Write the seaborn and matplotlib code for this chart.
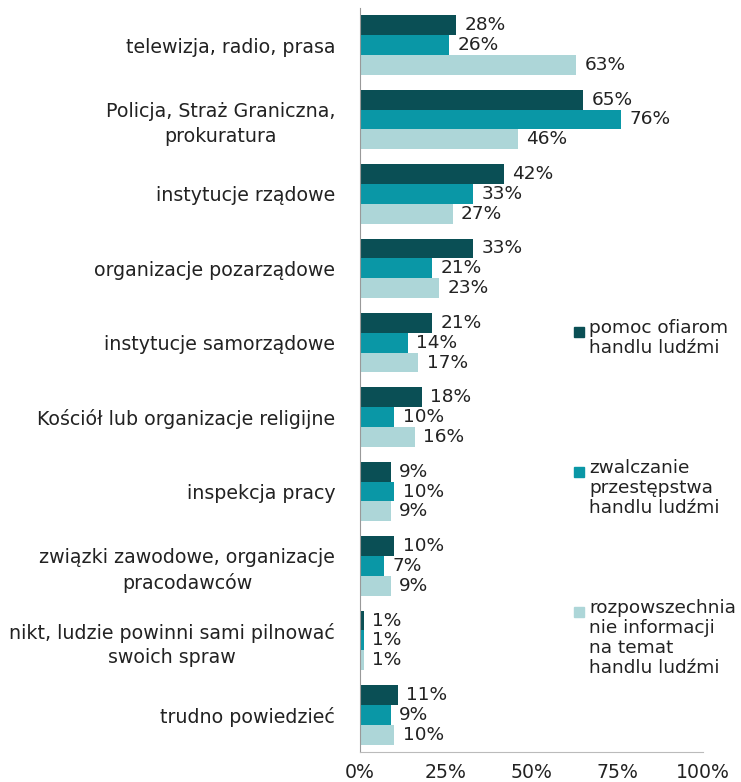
import matplotlib
matplotlib.use("Agg")
import matplotlib.pyplot as plt
from matplotlib.patches import Rectangle
from matplotlib.ticker import FuncFormatter
import seaborn as sns
import pandas as pd

categories = [
    "telewizja, radio, prasa",
    "Policja, Straż Graniczna,\nprokuratura",
    "instytucje rządowe",
    "organizacje pozarządowe",
    "instytucje samorządowe",
    "Kościół lub organizacje religijne",
    "inspekcja pracy",
    "związki zawodowe, organizacje\npracodawców",
    "nikt, ludzie powinni sami pilnować\nswoich spraw",
    "trudno powiedzieć",
]
series = [
    "pomoc ofiarom\nhandlu ludźmi",
    "zwalczanie\nprzestępstwa\nhandlu ludźmi",
    "rozpowszechnia\nnie informacji\nna temat\nhandlu ludźmi",
]
pomoc = [28, 65, 42, 33, 21, 18, 9, 10, 1, 11]
zwalczanie = [26, 76, 33, 21, 14, 10, 10, 7, 1, 9]
informacja = [63, 46, 27, 23, 17, 16, 9, 9, 1, 10]
colors = ["#0a4f55", "#0a97a6", "#add6d8"]

rows = []
for s, vals in zip(series, [pomoc, zwalczanie, informacja]):
    for c, v in zip(categories, vals):
        rows.append({"kategoria": c, "seria": s, "wartosc": v})
df = pd.DataFrame(rows)

sns.set_style("white")
plt.rcParams["font.family"] = ["DejaVu Sans"]
fs = 13.3

fig = plt.figure(figsize=(7.41, 7.82), dpi=100)
ax = fig.add_axes([0.486, 0.0384, 0.463, 0.9516])

sns.barplot(data=df, y="kategoria", x="wartosc", hue="seria", orient="h",
            palette=colors, saturation=1, width=0.8, legend=False,
            linewidth=0, ax=ax)

for cont in ax.containers:
    ax.bar_label(cont, fmt="%d%%", padding=6, fontsize=fs, color="#222222")

ax.set_xlim(0, 100)
ax.set_xticks([0, 25, 50, 75, 100])
ax.xaxis.set_major_formatter(FuncFormatter(lambda v, p: f"{v:.0f}%"))
ax.set_xlabel("")
ax.set_ylabel("")
ax.tick_params(axis="x", length=0, pad=8, labelsize=fs + 0.3, labelcolor="#222222")
ax.tick_params(axis="y", length=0, pad=18, labelsize=fs + 0.4, labelcolor="#222222")
for lab in ax.get_yticklabels():
    lab.set_multialignment("center")
    lab.set_linespacing(1.35)

for side in ["top", "right"]:
    ax.spines[side].set_visible(False)
ax.spines["left"].set_color("#999999")
ax.spines["bottom"].set_color("#bbbbbb")

# legend drawn by hand so the marker sits at the first line
leg_y = [319, 459, 599]
for s, col, y in zip(series, colors, leg_y):
    fig.add_artist(Rectangle((574 / 741, 1 - (y + 18) / 782), 10 / 741, 10 / 782,
                             transform=fig.transFigure, color=col))
    fig.text(589 / 741, 1 - y / 782, s, fontsize=fs, va="top", ha="left",
             color="#222222", linespacing=1.15)

fig.savefig("out.png", dpi=100)
